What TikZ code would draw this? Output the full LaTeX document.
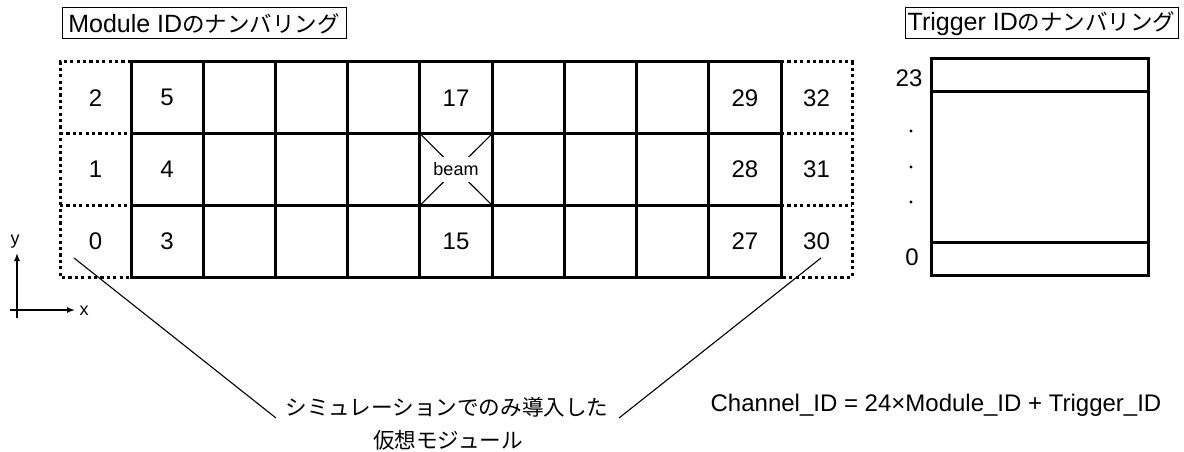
\documentclass[tikz,border=0pt]{standalone}
\usepackage{fontspec}
\setmainfont{Liberation Sans}
\newfontfamily\cjk{Noto Sans CJK JP}[Scale=0.9]
\usetikzlibrary{arrows.meta}
\begin{document}
\begin{tikzpicture}[x=1pt,y=-1pt,
  gridline/.style={line width=3pt},
  dotline/.style={line width=3pt,dash pattern=on 3.2pt off 3.2pt},
  num/.style={font=\fontsize{24}{28}\selectfont,inner sep=0pt},
  small/.style={font=\fontsize{18}{20}\selectfont,inner sep=0pt},
  titlebox/.style={draw,line width=1pt,font=\fontsize{25}{28}\selectfont,inner sep=0pt,minimum height=31pt},
  pointer/.style={line width=1.1pt},
  axis/.style={line width=1.4pt,-{Latex[length=8pt,width=6pt]}}
]
\useasboundingbox (0,0) rectangle (1184,452);
\def\cw{72.222}
% dashed virtual modules
\draw[dotline] (131,62) -- (60,62) -- (60,277) -- (131,277);
\draw[dotline] (60,133.7) -- (131,133.7);
\draw[dotline] (60,205.3) -- (131,205.3);
\draw[dotline] (781,62) -- (852,62) -- (852,277) -- (781,277);
\draw[dotline] (781,133.7) -- (852,133.7);
\draw[dotline] (781,205.3) -- (852,205.3);
% solid grid
\foreach \i in {0,...,9} {\draw[gridline] ({131+\i*\cw},62) -- ({131+\i*\cw},277);}
\foreach \y in {62,133.7,205.3,277} {\draw[gridline] (129.5,\y) -- (782.5,\y);}
% beam cell
\draw[line width=1.1pt] (420,133.7) -- (492.2,205.3);
\draw[line width=1.1pt] (492.2,133.7) -- (420,205.3);
\node[fill=white,inner sep=0pt,minimum width=50pt,minimum height=25pt,font=\fontsize{18}{20}\selectfont] (beam) at (456,169.5) {beam};
% numbers
\node[num] (n2) at (95.5,97.8) {2};
\node[num] (n1) at (95.5,169.5) {1};
\node[num] (n0) at (95.5,241.2) {0};
\node[num] (n5) at (167.1,97.8) {5};
\node[num] (n4) at (167.1,169.5) {4};
\node[num] (n3) at (167.1,241.2) {3};
\node[num] (n17) at (456,97.8) {17};
\node[num] (n15) at (456,241.2) {15};
\node[num] (n29) at (744.9,97.8) {29};
\node[num] (n28) at (744.9,169.5) {28};
\node[num] (n27) at (744.9,241.2) {27};
\node[num] (n32) at (816.5,97.8) {32};
\node[num] (n31) at (816.5,169.5) {31};
\node[num] (n30) at (816.5,241.2) {30};
% titles
\node[titlebox,minimum width=284pt] (mtitle) at (204,23.5) {Module ID{\cjk のナンバリング}};
\node[titlebox,minimum width=273pt] (ttitle) at (1041.5,23.5) {Trigger ID{\cjk のナンバリング}};
% trigger box
\draw[gridline] (931,59) rectangle (1148,275);
\draw[gridline] (931,92) -- (1148,92);
\draw[gridline] (931,242) -- (1148,242);
\node[num] (t23) at (909,78) {23};
\node[num] (t0) at (912,257) {0};
\fill (911,131) circle (1.6pt);
\fill (911,167) circle (1.6pt);
\fill (911,202) circle (1.6pt);
% axes
\coordinate (yo) at (17,318);
\coordinate (yt) at (17,253);
\coordinate (xo) at (10,310);
\coordinate (xt) at (75,310);
\draw[axis] (yo) -- (yt);
\draw[axis] (xo) -- (xt);
\node[small] (ylab) at (15,242) {y};
\node[small] (xlab) at (84,311) {x};
% note
\node[font=\fontsize{24}{28}\selectfont,inner sep=0pt,align=center] (note) at (447,407) {\cjk シミュレーションでのみ導入した};
\node[font=\fontsize{24}{28}\selectfont,inner sep=0pt] (note2) at (448,440) {\cjk 仮想モジュール};
\coordinate (pl0) at (74,258);
\coordinate (pl1) at (276,418);
\coordinate (pr0) at (821,258);
\coordinate (pr1) at (619,418);
\draw[pointer] (pl0) -- (pl1);
\draw[pointer] (pr0) -- (pr1);
% formula
\node[font=\fontsize{24}{28}\selectfont,inner sep=0pt] (formula) at (936,405) {Channel\_ID = 24×Module\_ID + Trigger\_ID};
\end{tikzpicture}
\end{document}
